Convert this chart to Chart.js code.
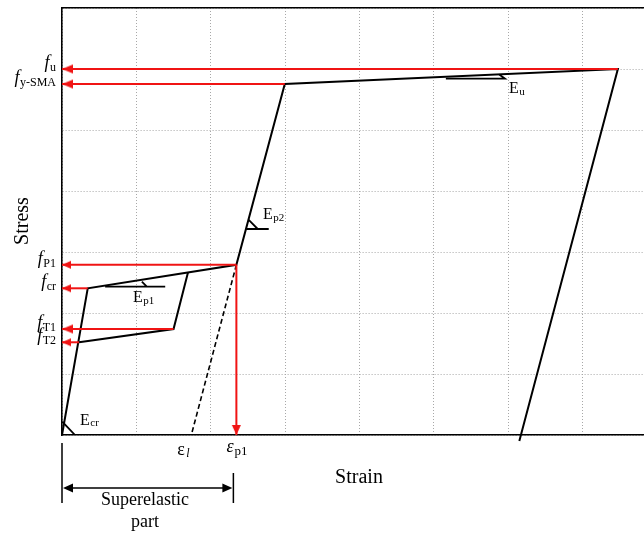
<!DOCTYPE html>
<html>
<head>
<meta charset="utf-8">
<script src="https://cdn.jsdelivr.net/npm/chart.js@4.4.1/dist/chart.umd.min.js"></script>
<style>
body { margin: 0; background: #fff; overflow: hidden; }
</style>
</head>
<body>
<canvas id="grafico" width="652" height="533"></canvas>
<script>
// loading path, strain and stress in grid units
const strainMain = [0, 0.346, 2.345, 2.996, 7.475, 6.15];
const stressMain = [0, 2.405, 2.79, 5.754, 6.0, -0.1];
// superelastic unloading loop
const strainLoop = [1.694, 1.5, 0.229];
const stressLoop = [2.665, 1.738, 1.52];
// elastic unloading to eps_l (dashed)
const strainDash = [2.345, 1.739];
const stressDash = [2.79, 0];

// stress levels marked on the axis
const levelNames = ["u", "y-SMA", "P1", "cr", "T1", "T2"];
const levelStress = [6.0, 5.754, 2.79, 2.405, 1.738, 1.52];
const levelStrain = [7.475, 2.996, 2.345, 0.346, 1.5, 0.229];
const levelSmall = [false, false, true, true, false, true];

const epsP1 = 2.345;

// slope marks E_u, E_p1, E_p2, E_cr (null = break)
const markStrain = [5.162, 5.957, 5.88, null, 0.58, 1.388, null, 1.074, 1.141, null,
                    2.476, 2.78, null, 2.511, 2.632, null, 0.004, 0.175];
const markStress = [5.841, 5.841, 5.91, null, 2.431, 2.431, null, 2.513, 2.431, null,
                    3.377, 3.377, null, 3.525, 3.377, null, 0.218, 0];

const SERIF = '"Liberation Serif", "Times New Roman", serif';

function pts(xs, ys) {
    return xs.map((x, i) => ({ x: x, y: (x === null || ys[i] === null) ? null : ys[i] }));
}

function makeArrow(len, half, color) {
    const c = document.createElement('canvas');
    c.width = 2 * len + 2;
    c.height = 2 * half + 2;
    const g = c.getContext('2d');
    g.fillStyle = color;
    g.beginPath();
    g.moveTo(c.width / 2, c.height / 2);
    g.lineTo(c.width / 2 + len, c.height / 2 - half);
    g.lineTo(c.width / 2 + len, c.height / 2 + half);
    g.closePath();
    g.fill();
    return c;
}

const RED = '#f01414';
const arrowBig = makeArrow(11, 4.5, RED);
const arrowSmall = makeArrow(9, 4, RED);
const arrowDown = makeArrow(10, 4.5, RED);

const datasets = [];

levelNames.forEach((n, i) => {
    datasets.push({
        data: [{ x: levelStrain[i], y: levelStress[i] }, { x: 0, y: levelStress[i] }],
        borderColor: RED,
        borderWidth: 2,
        pointRadius: [0, 5],
        pointStyle: levelSmall[i] ? arrowSmall : arrowBig,
        pointRotation: 0,
        showLine: true,
        clip: false
    });
});

datasets.push({
    data: [{ x: epsP1, y: stressMain[2] }, { x: epsP1, y: 0 }],
    borderColor: RED,
    borderWidth: 2,
    pointRadius: [0, 5],
    pointStyle: arrowDown,
    pointRotation: -90,
    showLine: true,
    clip: false
});

datasets.push({
    data: pts(strainMain, stressMain),
    borderColor: '#000',
    borderWidth: 2,
    pointRadius: 0,
    showLine: true,
    clip: false
});
datasets.push({
    data: pts(strainLoop, stressLoop),
    borderColor: '#000',
    borderWidth: 2,
    pointRadius: 0,
    showLine: true
});
datasets.push({
    data: pts(strainDash, stressDash),
    borderColor: '#000',
    borderWidth: 1.6,
    borderDash: [5, 3],
    pointRadius: 0,
    showLine: true
});
datasets.push({
    data: pts(markStrain, markStress),
    borderColor: '#000',
    borderWidth: 1.8,
    pointRadius: 0,
    showLine: true,
    spanGaps: false
});

function subText(ctx, main, sub, x, y, mainFont, subFont, subDy) {
    ctx.font = mainFont;
    ctx.fillText(main, x, y);
    const w = ctx.measureText(main).width;
    ctx.font = subFont;
    ctx.fillText(sub, x + w + 0.5, y + subDy);
}

const labelPlugin = {
    id: 'labels',
    afterDraw(chart) {
        const ctx = chart.ctx;
        const xs = chart.scales.x, ys = chart.scales.y;
        ctx.save();
        ctx.fillStyle = '#000';
        ctx.textAlign = 'left';
        ctx.textBaseline = 'alphabetic';

        // f labels on the stress axis
        levelNames.forEach((n, i) => {
            const py = ys.getPixelForValue(levelStress[i]);
            ctx.font = '12px ' + SERIF;
            const w = ctx.measureText(n).width;
            ctx.fillText(n, 56 - w, py + 2);
            ctx.font = 'italic 18px ' + SERIF;
            const fw = ctx.measureText('f').width;
            ctx.fillText('f', 56 - w - fw - 0.5, py - 1);
        });

        // strain labels
        const xl = xs.getPixelForValue(strainDash[1]);
        const xp = xs.getPixelForValue(epsP1);
        ctx.font = '18px ' + SERIF;
        ctx.fillText('\u03b5', xl - 14, 455);
        ctx.font = 'italic 12px ' + SERIF;
        ctx.fillText('l', xl - 5, 457);
        ctx.font = 'italic 18px ' + SERIF;
        ctx.fillText('\u03b5', xp - 10, 452);
        ctx.font = '13px ' + SERIF;
        ctx.fillText('p1', xp - 2, 455);

        // slope labels
        const mf = '16px ' + SERIF, sf = '11px ' + SERIF;
        subText(ctx, 'E', 'u', 509, 93, mf, sf, 2);
        subText(ctx, 'E', 'p1', 133, 302, mf, sf, 2);
        subText(ctx, 'E', 'p2', 263, 219, mf, sf, 2);
        subText(ctx, 'E', 'cr', 80, 425, mf, sf, 1);

        // axis titles
        ctx.font = '20px ' + SERIF;
        ctx.textAlign = 'center';
        ctx.fillText('Strain', 359, 483);
        ctx.save();
        ctx.translate(28, 221);
        ctx.rotate(-Math.PI / 2);
        ctx.fillText('Stress', 0, 0);
        ctx.restore();

        // superelastic part bracket
        const x0 = xs.getPixelForValue(0);
        const x1 = xp - 3;
        ctx.strokeStyle = '#000';
        ctx.lineWidth = 1.5;
        ctx.beginPath();
        ctx.moveTo(x0, 443); ctx.lineTo(x0, 503);
        ctx.moveTo(x1, 473); ctx.lineTo(x1, 503);
        ctx.moveTo(x0 + 6, 488); ctx.lineTo(x1 - 6, 488);
        ctx.stroke();
        ctx.beginPath();
        ctx.moveTo(x0 + 1, 488); ctx.lineTo(x0 + 11, 483.5); ctx.lineTo(x0 + 11, 492.5); ctx.closePath();
        ctx.moveTo(x1 - 1, 488); ctx.lineTo(x1 - 11, 483.5); ctx.lineTo(x1 - 11, 492.5); ctx.closePath();
        ctx.fill();
        ctx.font = '18px ' + SERIF;
        ctx.fillText('Superelastic', 145, 505);
        ctx.fillText('part', 145, 527);
        ctx.restore();
    }
};

new Chart(document.getElementById('grafico').getContext('2d'), {
    type: 'scatter',
    data: { datasets: datasets },
    options: {
        responsive: false,
        animation: false,
        devicePixelRatio: 1,
        layout: { padding: { left: 62, top: 8, right: 0, bottom: 98 } },
        plugins: { legend: { display: false }, tooltip: { enabled: false } },
        scales: {
            x: {
                type: 'linear',
                min: 0, max: 7.84,
                ticks: { display: false, stepSize: 1, includeBounds: false },
                grid: { color: '#a8a8a8', lineWidth: 1, drawTicks: false },
                border: { color: '#000', width: 1.6, dash: [1, 2] }
            },
            xTop: {
                type: 'linear',
                position: 'top',
                min: 0, max: 7.84,
                ticks: { display: false },
                grid: { display: false, drawTicks: false },
                border: { color: '#000', width: 1.6 }
            },
            y: {
                type: 'linear',
                min: 0, max: 7,
                ticks: { display: false, stepSize: 1 },
                grid: { color: '#a8a8a8', lineWidth: 1, drawTicks: false },
                border: { color: '#000', width: 1.6, dash: [1, 2] }
            }
        }
    },
    plugins: [labelPlugin]
});
</script>
</body>
</html>
